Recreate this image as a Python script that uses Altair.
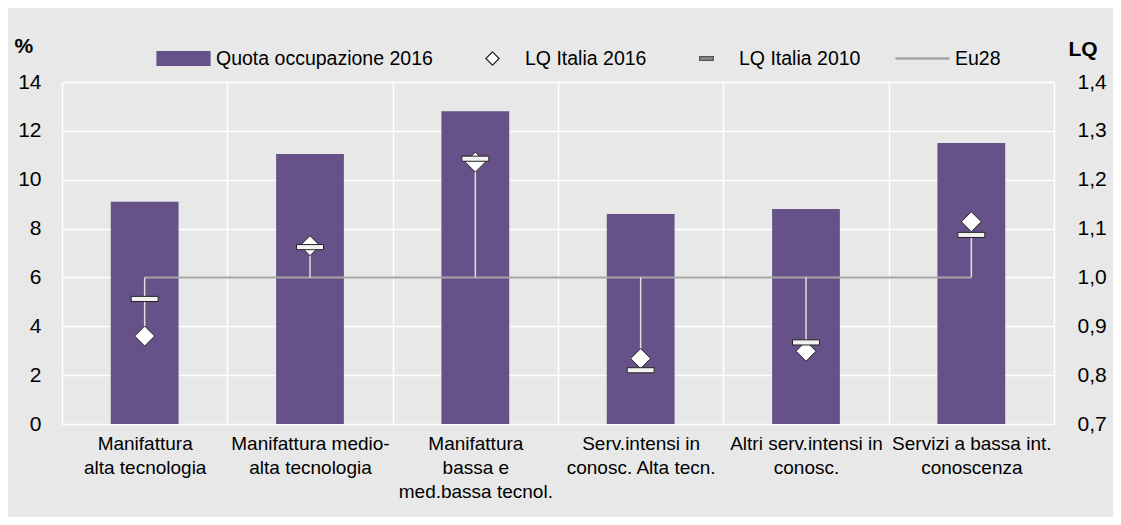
import altair as alt
import pandas as pd

categories = [
    "Manifattura\nalta tecnologia",
    "Manifattura medio-\nalta tecnologia",
    "Manifattura\nbassa e\nmed.bassa tecnol.",
    "Serv.intensi in\nconosc. Alta tecn.",
    "Altri serv.intensi in\nconosc.",
    "Servizi a bassa int.\nconoscenza",
]
quota_2016 = [9.1, 11.05, 12.8, 8.6, 8.8, 11.5]
lq_italia_2016 = [0.88, 1.065, 1.236, 0.834, 0.849, 1.114]
lq_italia_2010 = [0.956, 1.062, 1.243, 0.810, 0.867, 1.087]
eu28 = [1.0, 1.0, 1.0, 1.0, 1.0, 1.0]
series = ["Quota occupazione 2016", "LQ Italia 2016", "LQ Italia 2010", "Eu28"]
left_ticks = [0, 2, 4, 6, 8, 10, 12, 14]
right_ticks = [0.7, 0.8, 0.9, 1.0, 1.1, 1.2, 1.3, 1.4]

FONT = "Liberation Sans, Arial, sans-serif"
PURPLE = "#665288"
BG = "#e8e8e8"
DARK = "#222222"
GREY = "#a5a5a5"

df = pd.DataFrame({
    "cat": categories,
    "quota": quota_2016,
    "lq16": lq_italia_2016,
    "lq10": lq_italia_2010,
    "eu": eu28,
})

x_enc = alt.X(
    "cat:N", sort=categories,
    scale=alt.Scale(paddingInner=0, paddingOuter=0),
    axis=alt.Axis(
        title=None, tickBand="extent", grid=True, gridColor="white", gridWidth=1.5,
        domain=False, ticks=False, labelAngle=0,
        labelExpr="split(datum.label, '\\n')",
        labelFont=FONT, labelFontSize=19, labelLineHeight=24, labelBaseline="top",
        labelPadding=10, labelOverlap=False, labelLimit=300, labelColor="black",
        labelFlush=False,
    ),
)

bars = alt.Chart(df).mark_bar(color=PURPLE, width=alt.RelativeBandSize(0.41)).encode(
    x=x_enc,
    y=alt.Y(
        "quota:Q",
        scale=alt.Scale(domain=[0, 14], nice=False, zero=True),
        axis=alt.Axis(
            values=left_ticks, title="%", titleAngle=0, titleX=-48, titleY=-30,
            titleAlign="left", titleBaseline="alphabetic", titleFont=FONT,
            titleFontSize=21, titleFontWeight="bold", titleColor="black",
            grid=True, gridColor="white", gridWidth=1.5, domain=False, ticks=False,
            labelFont=FONT, labelFontSize=21, labelPadding=21, labelColor="black",
        ),
    ),
)

lq_scale = alt.Scale(domain=[0.7, 1.4], nice=False, zero=False)
lq_axis = alt.Axis(
    orient="right", values=right_ticks,
    labelExpr="replace(format(datum.value, '.1f'), '.', ',')",
    title="LQ", titleAngle=0, titleX=14, titleY=-27, titleAlign="left",
    titleBaseline="alphabetic", titleFont=FONT, titleFontSize=21,
    titleFontWeight="bold", titleColor="black",
    grid=False, domain=False, ticks=False,
    labelFont=FONT, labelFontSize=21, labelPadding=23, labelColor="black",
)


def lq_y(field):
    return alt.Y(field + ":Q", scale=lq_scale, axis=lq_axis)


base = alt.Chart(df)
eu_line = base.mark_line(color=GREY, strokeWidth=2).encode(x=x_enc, y=lq_y("eu"))
rules = base.mark_rule(color="#dedede", strokeWidth=1.5).encode(
    x=x_enc, y=lq_y("eu"), y2="lq16:Q"
)
diamonds = base.mark_point(
    shape="diamond", filled=True, fill="white", stroke=DARK, strokeWidth=1,
    size=400, opacity=1,
).encode(x=x_enc, y=lq_y("lq16"))
dashes = base.mark_point(
    shape="M-1,-0.19H1V0.19H-1Z", filled=True, fill="#f2f2f2", stroke=DARK,
    strokeWidth=1, size=729, opacity=1,
).encode(x=x_enc, y=lq_y("lq10"))

leg = alt.Legend(
    title=None, orient="none", legendX=94, legendY=-51, direction="horizontal",
    symbolSize=2809, symbolStrokeWidth=1.2, labelFont=FONT, labelFontSize=19.5,
    labelColor="black", labelOffset=5, columnPadding=32, padding=0, labelLimit=400,
)
legend_layer = alt.Chart(pd.DataFrame({"series": series})).transform_filter(
    "false"
).mark_point(filled=True, opacity=1).encode(
    fill=alt.Fill("series:N", scale=alt.Scale(
        domain=series, range=[PURPLE, "white", "#8c8c8c", GREY]), legend=leg),
    stroke=alt.Stroke("series:N", scale=alt.Scale(
        domain=series, range=[PURPLE, DARK, "#555555", GREY]), legend=leg),
    shape=alt.Shape("series:N", scale=alt.Scale(
        domain=series,
        range=["M-1,-0.26H1V0.26H-1Z", "M0,-0.25L0.25,0L0,0.25L-0.25,0Z",
               "M-0.26,-0.07H0.26V0.07H-0.26Z", "M-1,-0.02H1V0.02H-1Z"]), legend=leg),
)

lq_layer = alt.layer(eu_line, rules, diamonds, dashes, legend_layer)

chart = alt.layer(bars, lq_layer).resolve_scale(y="independent").properties(
    width=992, height=342,
    padding={"left": 54, "top": 74, "right": 59, "bottom": 93},
    autosize=alt.AutoSizeParams(type="none"),
    background=BG,
).configure_view(fill=BG, stroke=None).configure(font=FONT)

chart.save("out.html", embed_options={"renderer": "svg", "actions": False})
